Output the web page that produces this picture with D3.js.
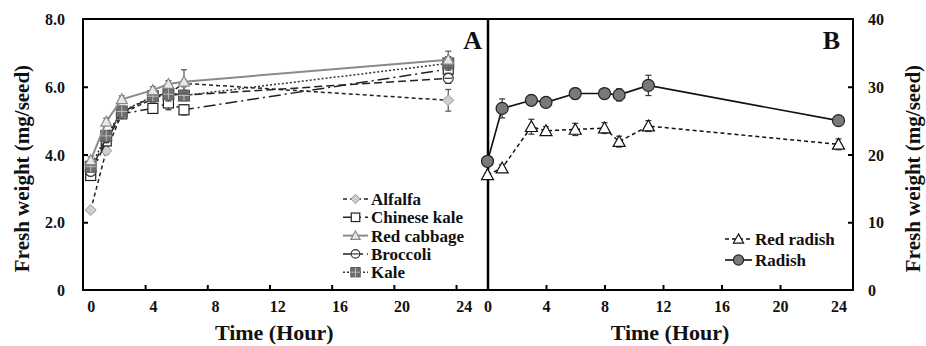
<!DOCTYPE html>
<html><head><meta charset="utf-8">
<script src="https://cdn.jsdelivr.net/npm/d3@7"></script>
<style>body{margin:0;background:#fff}svg text{font-family:"Liberation Serif","Times New Roman",serif;font-weight:bold;fill:#111}</style>
</head><body><svg id="c" width="926" height="346"></svg>
<script>
// Panel A data
const hoursA = [0, 1, 2, 4, 5, 6, 23];
const alfalfa = [2.36, 4.11, 5.2, 5.65, 5.8, 6.1, 5.6];
const alfalfaErr = [0.05, 0.1, 0.1, 0.1, 0.1, 0.1, 0.32];
const chineseKale = [3.38, 4.4, 5.2, 5.36, 5.52, 5.32, 6.52];
const chineseKaleErr = [0.1, 0.1, 0.1, 0.1, 0.2, 0.15, 0.15];
const redCabbage = [3.83, 4.97, 5.63, 5.9, 6.08, 6.15, 6.8];
const redCabbageErr = [0.1, 0.1, 0.1, 0.1, 0.1, 0.35, 0.25];
const broccoli = [3.5, 4.5, 5.25, 5.7, 5.82, 5.75, 6.25];
const broccoliErr = [0.1, 0.15, 0.1, 0.1, 0.1, 0.1, 0.15];
const kale = [3.64, 4.55, 5.27, 5.72, 5.78, 5.74, 6.69];
const kaleErr = [0.15, 0.15, 0.15, 0.15, 0.2, 0.15, 0.2];
// Panel B data
const hoursB = [0, 1, 3, 4, 6, 8, 9, 11, 24];
const redRadish = [17.0, 18.0, 24.1, 23.5, 23.7, 23.9, 21.9, 24.2, 21.5];
const redRadishErr = [0.3, 0.5, 1.1, 0.6, 0.9, 0.8, 0.8, 0.8, 0.8];
const radish = [19.0, 26.8, 28.0, 27.7, 29.0, 29.0, 28.8, 30.2, 25.0];
const radishErr = [0.3, 1.4, 0.6, 0.7, 0.8, 0.7, 0.9, 1.5, 0.5];
// Ticks
const xTicks = [0, 4, 8, 12, 16, 20, 24];
const yTicksA = [0, 2, 4, 6, 8];
const yTicksB = [0, 10, 20, 30, 40];

const svg = d3.select("#c");
const yTop = 19, yBot = 290;
const xA = d3.scaleLinear().domain([0, 24]).range([90.7, 463.8]);
const yA = d3.scaleLinear().domain([0, 8]).range([yBot, yTop]);
const xB = d3.scaleLinear().domain([0, 24]).range([487.5, 838.5]);
const yB = d3.scaleLinear().domain([0, 40]).range([yBot, yTop]);
const leftA = 83, divider = 488, rightB = 853;

// frames
const frame = svg.append("g").attr("fill", "none").attr("stroke", "#000").attr("stroke-width", 2);
frame.append("path").attr("d", `M${leftA},${yTop}H${rightB}V${yBot}H${leftA}Z`);
frame.append("line").attr("x1", divider).attr("x2", divider).attr("y1", yTop).attr("y2", yBot).attr("stroke-width", 2.5);

// Axes A
const axA = svg.append("g");
axA.append("g").attr("transform", `translate(${leftA},0)`)
  .call(d3.axisRight(yA).tickValues(yTicksA.slice(1, 4)).tickSize(5).tickFormat(""))
  .call(g => { g.select(".domain").remove(); g.selectAll("line").attr("stroke-width", 2); });
axA.append("g").attr("transform", `translate(65,0)`)
  .call(d3.axisLeft(yA).tickValues(yTicksA).tickSize(0).tickFormat(d => d === 0 ? "0" : d3.format(".1f")(d)))
  .call(g => { g.select(".domain").remove(); g.selectAll("text").attr("font-size", 16).attr("x", 0).attr("dy", "0.35em"); });
axA.append("g").attr("transform", `translate(0,${yBot})`)
  .call(d3.axisTop(xA).tickValues(xTicks.slice(1).map(v => v - 0.5)).tickSize(5).tickFormat(""))
  .call(g => { g.select(".domain").remove(); g.selectAll("line").attr("stroke-width", 2); });
axA.append("g").attr("transform", `translate(0,${yBot})`)
  .call(d3.axisBottom(xA).tickValues(xTicks).tickSize(0).tickPadding(22))
  .call(g => { g.select(".domain").remove(); g.selectAll("text").attr("font-size", 16).attr("dy", 0); });

// Axes B
const axB = svg.append("g");
axB.append("g").attr("transform", `translate(${rightB},0)`)
  .call(d3.axisLeft(yB).tickValues(yTicksB.slice(1, 4)).tickSize(5).tickFormat(""))
  .call(g => { g.select(".domain").remove(); g.selectAll("line").attr("stroke-width", 2); });
axB.append("g").attr("transform", `translate(868,0)`)
  .call(d3.axisRight(yB).tickValues(yTicksB).tickSize(0))
  .call(g => { g.select(".domain").remove(); g.selectAll("text").attr("font-size", 16).attr("x", 0).attr("dy", "0.35em"); });
axB.append("g").attr("transform", `translate(0,${yBot})`)
  .call(d3.axisTop(xB).tickValues(xTicks.slice(1, 6)).tickSize(5).tickFormat(""))
  .call(g => { g.select(".domain").remove(); g.selectAll("line").attr("stroke-width", 2); });
axB.append("g").attr("transform", `translate(0,${yBot})`)
  .call(d3.axisBottom(xB).tickValues(xTicks).tickSize(0).tickPadding(22))
  .call(g => { g.select(".domain").remove(); g.selectAll("text").attr("font-size", 16).attr("dy", 0); });

// Titles
svg.append("text").attr("x", xA(12) - 3).attr("y", 340).attr("text-anchor", "middle").attr("font-size", 22).text("Time (Hour)");
svg.append("text").attr("x", 670).attr("y", 340).attr("text-anchor", "middle").attr("font-size", 22).text("Time (Hour)");
svg.append("text").attr("transform", `translate(29,${(yTop + yBot) / 2 + 14}) rotate(-90)`).attr("text-anchor", "middle").attr("font-size", 21).text("Fresh weight (mg/seed)");
svg.append("text").attr("transform", `translate(920,${(yTop + yBot) / 2 + 14}) rotate(-90)`).attr("text-anchor", "middle").attr("font-size", 21).text("Fresh weight (mg/seed)");
svg.append("text").attr("x", 482).attr("y", 49).attr("text-anchor", "end").attr("font-size", 26).text("A");
svg.append("text").attr("x", 840).attr("y", 49).attr("text-anchor", "end").attr("font-size", 26).text("B");

// Marker painters
const markers = {
  diamond: (g, s) => g.append("path").attr("d", `M0,${-s}L${s},0L0,${s}L${-s},0Z`).attr("fill", "#cfcfcf").attr("stroke", "#999").attr("stroke-width", 1),
  square: (g, s) => g.append("rect").attr("x", -s).attr("y", -s).attr("width", 2 * s).attr("height", 2 * s).attr("fill", "#fff").attr("stroke", "#222").attr("stroke-width", 1.2),
  triGray: (g, s) => g.append("path").attr("d", `M0,${-s}L${s},${s * 0.8}L${-s},${s * 0.8}Z`).attr("fill", "#e8e8e8").attr("stroke", "#888").attr("stroke-width", 1.2),
  circleMinus: (g, s) => { g.append("circle").attr("r", s).attr("fill", "#fff").attr("stroke", "#333").attr("stroke-width", 1.2); g.append("line").attr("x1", -s + 1).attr("x2", s - 1).attr("stroke", "#333").attr("stroke-width", 1.2); },
  squareCross: (g, s) => { g.append("rect").attr("x", -s).attr("y", -s).attr("width", 2 * s).attr("height", 2 * s).attr("fill", "#6e6e6e").attr("stroke", "#555"); g.append("path").attr("d", `M${-s},0H${s}M0,${-s}V${s}`).attr("stroke", "#bbb").attr("stroke-width", 1); },
  triWhite: (g, s) => g.append("path").attr("d", `M0,${-s}L${s},${s * 0.8}L${-s},${s * 0.8}Z`).attr("fill", "#fff").attr("stroke", "#111").attr("stroke-width", 1.2),
  circleGray: (g, s) => g.append("circle").attr("r", s).attr("fill", "#7a7a7a").attr("stroke", "#222").attr("stroke-width", 1.2)
};

function drawSeries(xs, ys, errs, xSc, ySc, st) {
  const g = svg.append("g");
  const pts = xs.map((h, i) => ({ h, v: ys[i], e: errs[i] }));
  g.append("path").datum(pts).attr("fill", "none").attr("stroke", st.color).attr("stroke-width", st.width)
    .attr("stroke-dasharray", st.dash || null)
    .attr("d", d3.line().x(d => xSc(d.h)).y(d => ySc(d.v)));
  const eb = g.selectAll(".eb").data(pts).join("g").attr("stroke", st.errColor || "#333").attr("stroke-width", 1.2);
  eb.append("line").attr("x1", d => xSc(d.h)).attr("x2", d => xSc(d.h)).attr("y1", d => ySc(d.v - d.e)).attr("y2", d => ySc(d.v + d.e));
  eb.append("line").attr("x1", d => xSc(d.h) - 3).attr("x2", d => xSc(d.h) + 3).attr("y1", d => ySc(d.v + d.e)).attr("y2", d => ySc(d.v + d.e));
  eb.append("line").attr("x1", d => xSc(d.h) - 3).attr("x2", d => xSc(d.h) + 3).attr("y1", d => ySc(d.v - d.e)).attr("y2", d => ySc(d.v - d.e));
  g.selectAll(".mk").data(pts).join("g").attr("transform", d => `translate(${xSc(d.h)},${ySc(d.v)})`)
    .each(function () { markers[st.marker](d3.select(this), st.size); });
}

const stylesA = [
  { name: "Alfalfa", data: alfalfa, err: alfalfaErr, color: "#222", width: 1.5, dash: "4,3", marker: "diamond", size: 5.5, errColor: "#555" },
  { name: "Chinese kale", data: chineseKale, err: chineseKaleErr, color: "#222", width: 1.5, dash: "12,4,2,4", marker: "square", size: 5 },
  { name: "Red cabbage", data: redCabbage, err: redCabbageErr, color: "#8a8a8a", width: 2, dash: null, marker: "triGray", size: 5.5, errColor: "#555" },
  { name: "Broccoli", data: broccoli, err: broccoliErr, color: "#222", width: 1.5, dash: "8,4", marker: "circleMinus", size: 5 },
  { name: "Kale", data: kale, err: kaleErr, color: "#333", width: 1.5, dash: "2,2", marker: "squareCross", size: 5.5 }
];
const drawOrderA = [0, 1, 3, 4, 2];
drawOrderA.forEach(i => { const s = stylesA[i]; drawSeries(hoursA, s.data, s.err, xA, yA, s); });

const stylesB = [
  { name: "Red radish", data: redRadish, err: redRadishErr, color: "#111", width: 1.5, dash: "4,3", marker: "triWhite", size: 6 },
  { name: "Radish", data: radish, err: radishErr, color: "#111", width: 1.6, dash: null, marker: "circleGray", size: 6 }
];
stylesB.forEach(s => drawSeries(hoursB, s.data, s.err, xB, yB, s));

// Legends
function legend(items, x0, y0, dy, lw) {
  items.forEach((s, i) => {
    const g = svg.append("g").attr("transform", `translate(${x0},${y0 + i * dy})`);
    g.append("line").attr("x1", 0).attr("x2", lw).attr("stroke", s.color).attr("stroke-width", s.width).attr("stroke-dasharray", s.dash || null);
    const m = g.append("g").attr("transform", `translate(${lw / 2},0)`);
    markers[s.marker](m, s.size * 0.85);
    g.append("text").attr("x", lw + 3).attr("dy", "0.35em").attr("font-size", 17).text(s.name);
  });
}
legend(stylesA, 343, 199, 18.3, 25);
legend(stylesB, 725, 239, 21, 27);
</script></body></html>
